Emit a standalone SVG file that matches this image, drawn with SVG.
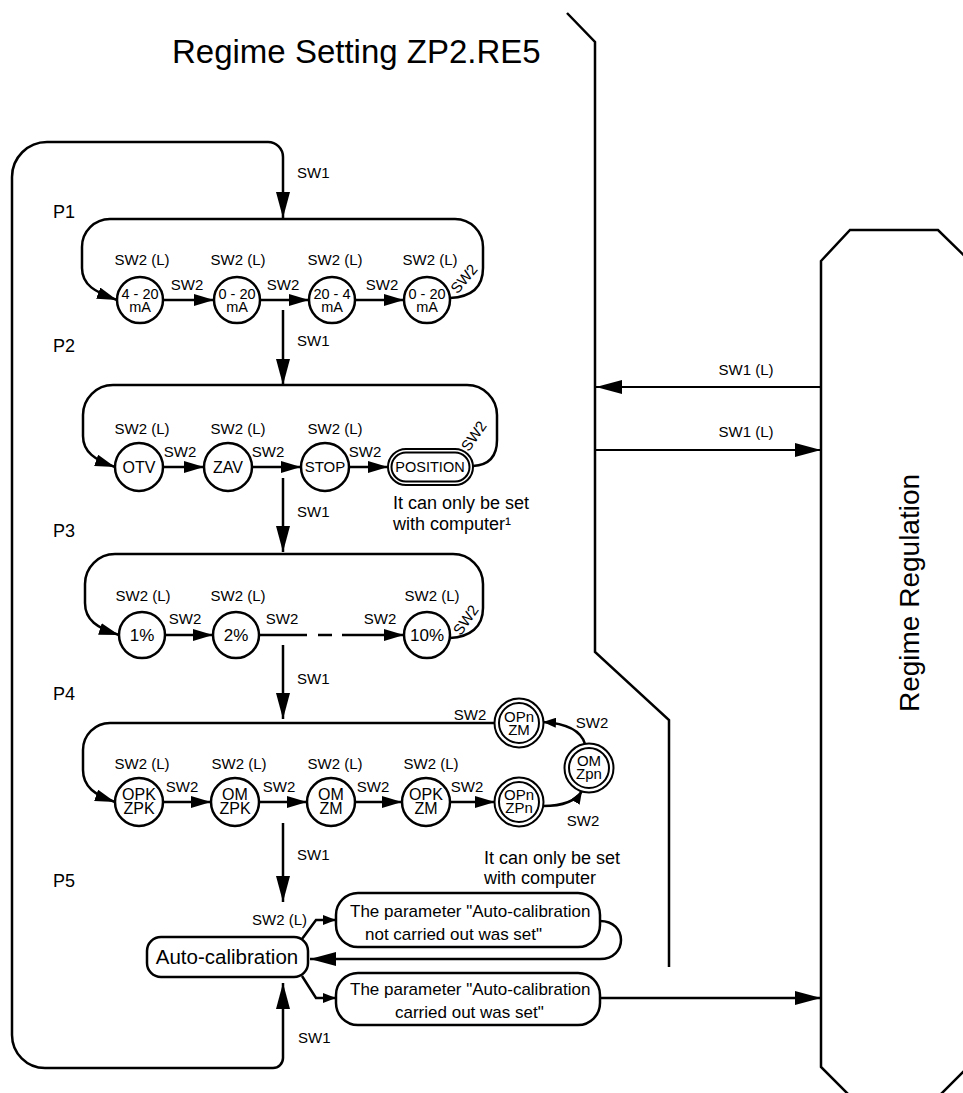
<svg xmlns="http://www.w3.org/2000/svg" width="963" height="1093" viewBox="0 0 963 1093">
<defs>
<style>
.ln{fill:none;stroke:#000;stroke-width:2.5}
.th{fill:none;stroke:#000;stroke-width:2}
.nd{fill:#fff;stroke:#000;stroke-width:2.5}
.nd2{fill:none;stroke:#000;stroke-width:2}
text{font-family:"Liberation Sans",Arial,Helvetica,sans-serif;fill:#000}
.s15{font-size:15px}
.s14{font-size:14.5px}
.s16{font-size:16px}
.s17{font-size:17px}
.s18{font-size:18px}
.c{text-anchor:middle}
</style>
<marker id="ab" markerUnits="userSpaceOnUse" markerWidth="26" markerHeight="14" refX="26" refY="7" orient="auto-start-reverse"><path d="M0,0 L26,7 L0,14 z"/></marker>
<marker id="am" markerUnits="userSpaceOnUse" markerWidth="20" markerHeight="12" refX="20" refY="6" orient="auto"><path d="M0,0 L20,6 L0,12 z"/></marker>
<marker id="as" markerUnits="userSpaceOnUse" markerWidth="13" markerHeight="10" refX="13" refY="5" orient="auto"><path d="M0,0 L13,5 L0,10 z"/></marker>
</defs>
<rect width="963" height="1093" fill="#fff"/>

<text x="172" y="63" style="font-size:33px">Regime Setting ZP2.RE5</text>

<g id="separator"><polyline class="ln" points="567,13 595,42 595,652 669,720 669,967"/></g>

<g id="regime-regulation">
<polygon class="ln" points="821,261 850,230 938,230 980,271 980,1055 935,1100 854,1100 821,1067"/>
<text transform="translate(919,593) rotate(-90)" class="c" style="font-size:28px">Regime Regulation</text>
</g>

<g id="connectors">
<path class="ln" d="M283,983 L283,1058 A10,10 0 0 1 273,1068 L45,1068 A33,33 0 0 1 12,1035 L12,177 A35,35 0 0 1 47,142 L268,142 A15,15 0 0 1 283,157 L283,218" marker-start="url(#ab)" marker-end="url(#ab)"/>
<!-- P1 -->
<path class="ln" d="M450,298 C470,297 483,288 483,268 L483,247 A28,28 0 0 0 455,219 L110,219 A28,28 0 0 0 82,247 L82,268 C82,285 95,292 117,300" marker-end="url(#am)"/>
<path class="ln" d="M163,300 L214,300" marker-end="url(#am)"/>
<path class="ln" d="M260,300 L309,300" marker-end="url(#am)"/>
<path class="ln" d="M355,300 L404,300" marker-end="url(#am)"/>
<path class="ln" d="M283,310 L283,385" marker-end="url(#ab)"/>
<!-- P2 -->
<path class="ln" d="M473,466 C490,465 497,456 497,440 L497,415 A30,30 0 0 0 467,385 L113,385 A30,30 0 0 0 83,415 L83,436 C83,452 95,460 115,467" marker-end="url(#am)"/>
<path class="ln" d="M163,467 L204,467" marker-end="url(#am)"/>
<path class="ln" d="M251,467 L301,467" marker-end="url(#am)"/>
<path class="ln" d="M349,467 L388,467" marker-end="url(#am)"/>
<path class="ln" d="M283,478 L283,552" marker-end="url(#ab)"/>
<!-- P3 -->
<path class="ln" d="M450,638 C470,637 483,627 483,608 L483,584 A30,30 0 0 0 453,554 L115,554 A30,30 0 0 0 85,584 L85,603 C85,620 97,628 119,635" marker-end="url(#am)"/>
<path class="ln" d="M165,635 L213,635" marker-end="url(#am)"/>
<path class="ln" d="M259,635 L307,635 M318,635 L332,635 M342,635 L404,635" marker-end="url(#am)"/>
<path class="ln" d="M283,645 L283,719" marker-end="url(#ab)"/>
<!-- P4 -->
<path class="ln" d="M495,723 L110,723 A27,27 0 0 0 83,750 L83,770 C83,787 95,795 115,802" marker-end="url(#am)"/>
<path class="ln" d="M163,802 L211,802" marker-end="url(#am)"/>
<path class="ln" d="M259,802 L307,802" marker-end="url(#am)"/>
<path class="ln" d="M355,802 L402,802" marker-end="url(#am)"/>
<path class="ln" d="M450,802 L495,802" marker-end="url(#am)"/>
<path class="ln" d="M543,806 Q573,806 582,791" marker-end="url(#as)"/>
<path class="ln" d="M585,744 Q579,724 543,722" marker-end="url(#as)"/>
<path class="ln" d="M283,823 L283,902" marker-end="url(#ab)"/>
<!-- P5 -->
<path class="ln" d="M302,939 L316,920 L336,920" marker-end="url(#as)"/>
<path class="ln" d="M302,976 L316,998 L336,998" marker-end="url(#as)"/>
<path class="ln" d="M600,921 C628,921 628,959 600,959 L310,959" marker-end="url(#ab)"/>
<path class="ln" d="M600,998 L821,998" marker-end="url(#ab)"/>
<!-- to/from regulation -->
<path class="th" d="M821,387 L596,387" marker-end="url(#ab)"/>
<path class="th" d="M596,450 L821,450" marker-end="url(#ab)"/>
</g>

<g id="labels" class="s15">
<text x="297" y="178">SW1</text>
<text x="297" y="346">SW1</text>
<text x="297" y="517">SW1</text>
<text x="297" y="684">SW1</text>
<text x="297" y="860">SW1</text>
<text x="298" y="1043">SW1</text>
<text x="746" y="375" class="c">SW1 (L)</text>
<text x="746" y="437" class="c">SW1 (L)</text>
<!-- P1 -->
<text x="142" y="265" class="c">SW2 (L)</text>
<text x="238" y="265" class="c">SW2 (L)</text>
<text x="335" y="265" class="c">SW2 (L)</text>
<text x="430" y="265" class="c">SW2 (L)</text>
<text x="187" y="290" class="c">SW2</text>
<text x="283" y="290" class="c">SW2</text>
<text x="382" y="290" class="c">SW2</text>
<text transform="translate(468,282) rotate(-50)" class="c">SW2</text>
<!-- P2 -->
<text x="142" y="434" class="c">SW2 (L)</text>
<text x="238" y="434" class="c">SW2 (L)</text>
<text x="335" y="434" class="c">SW2 (L)</text>
<text x="180" y="457" class="c">SW2</text>
<text x="268" y="457" class="c">SW2</text>
<text x="365" y="457" class="c">SW2</text>
<text transform="translate(478,439) rotate(-55)" class="c">SW2</text>
<!-- P3 -->
<text x="143" y="601" class="c">SW2 (L)</text>
<text x="238" y="601" class="c">SW2 (L)</text>
<text x="432" y="601" class="c">SW2 (L)</text>
<text x="185" y="624" class="c">SW2</text>
<text x="282" y="624" class="c">SW2</text>
<text x="380" y="624" class="c">SW2</text>
<text transform="translate(470,623) rotate(-55)" class="c">SW2</text>
<!-- P4 -->
<text x="142" y="769" class="c">SW2 (L)</text>
<text x="239" y="769" class="c">SW2 (L)</text>
<text x="335" y="769" class="c">SW2 (L)</text>
<text x="431" y="769" class="c">SW2 (L)</text>
<text x="182" y="792" class="c">SW2</text>
<text x="279" y="792" class="c">SW2</text>
<text x="373" y="792" class="c">SW2</text>
<text x="467" y="792" class="c">SW2</text>
<text x="470" y="720" class="c">SW2</text>
<text x="592" y="728" class="c">SW2</text>
<text x="583" y="826" class="c">SW2</text>
<!-- P5 -->
<text x="307" y="925" style="text-anchor:end">SW2 (L)</text>
</g>

<g id="section-labels" class="s18">
<text x="53" y="218">P1</text>
<text x="53" y="352">P2</text>
<text x="53" y="537">P3</text>
<text x="53" y="700">P4</text>
<text x="53" y="887">P5</text>
</g>

<g id="notes" class="s18">
<text x="393" y="509">It can only be set</text>
<text x="393" y="530">with computer¹</text>
<text x="484" y="864">It can only be set</text>
<text x="484" y="884">with computer</text>
</g>

<g id="p1-4-20mA"><circle class="nd" cx="140" cy="300" r="23"/><text class="c s14" x="140" y="299">4 - 20</text><text class="c s14" x="140" y="312">mA</text></g>
<g id="p1-0-20mA-a"><circle class="nd" cx="237" cy="300" r="23"/><text class="c s14" x="237" y="299">0 - 20</text><text class="c s14" x="237" y="312">mA</text></g>
<g id="p1-20-4mA"><circle class="nd" cx="332" cy="300" r="23"/><text class="c s14" x="332" y="299">20 - 4</text><text class="c s14" x="332" y="312">mA</text></g>
<g id="p1-0-20mA-b"><circle class="nd" cx="427" cy="300" r="23"/><text class="c s14" x="427" y="299">0 - 20</text><text class="c s14" x="427" y="312">mA</text></g>

<g id="p2-otv"><circle class="nd" cx="139" cy="467" r="24"/><text class="c s16" x="139" y="473">OTV</text></g>
<g id="p2-zav"><circle class="nd" cx="228" cy="467" r="24"/><text class="c s16" x="228" y="473">ZAV</text></g>
<g id="p2-stop"><circle class="nd" cx="325" cy="467" r="24"/><text class="c" x="325" y="472" style="font-size:15px">STOP</text></g>
<g id="p2-position"><rect class="nd2" x="388" y="449" width="85" height="36" rx="18" style="fill:#fff"/><rect class="nd2" x="391.5" y="452.5" width="78" height="29" rx="14.5"/><text class="c" x="430" y="472" style="font-size:14.5px">POSITION</text></g>

<g id="p3-1"><circle class="nd" cx="142" cy="635" r="23"/><text class="c s17" x="142" y="641">1%</text></g>
<g id="p3-2"><circle class="nd" cx="236" cy="635" r="23"/><text class="c s17" x="236" y="641">2%</text></g>
<g id="p3-10"><circle class="nd" cx="427" cy="635" r="23"/><text class="c s17" x="427" y="641">10%</text></g>

<g id="p4-opk-zpk"><circle class="nd" cx="139" cy="802" r="24"/><text class="c s16" x="139" y="800">OPK</text><text class="c s16" x="139" y="814">ZPK</text></g>
<g id="p4-om-zpk"><circle class="nd" cx="235" cy="802" r="24"/><text class="c s16" x="235" y="800">OM</text><text class="c s16" x="235" y="814">ZPK</text></g>
<g id="p4-om-zm"><circle class="nd" cx="331" cy="802" r="24"/><text class="c s16" x="331" y="800">OM</text><text class="c s16" x="331" y="814">ZM</text></g>
<g id="p4-opk-zm"><circle class="nd" cx="426" cy="802" r="24"/><text class="c s16" x="426" y="800">OPK</text><text class="c s16" x="426" y="814">ZM</text></g>
<g id="p4-opn-zpn"><circle class="nd2" cx="519" cy="802" r="24.5" style="fill:#fff"/><circle class="nd2" cx="519" cy="802" r="20"/><text class="c s15" x="519" y="800">OPn</text><text class="c s15" x="519" y="813">ZPn</text></g>
<g id="p4-om-zpn"><circle class="nd2" cx="589" cy="768" r="24.5" style="fill:#fff"/><circle class="nd2" cx="589" cy="768" r="20"/><text class="c s15" x="589" y="766">OM</text><text class="c s15" x="589" y="779">Zpn</text></g>
<g id="p4-opn-zm"><circle class="nd2" cx="519" cy="723" r="24.5" style="fill:#fff"/><circle class="nd2" cx="519" cy="723" r="20"/><text class="c s15" x="519" y="722">OPn</text><text class="c s15" x="519" y="735">ZM</text></g>

<g id="auto-calibration"><rect class="nd" x="147" y="937" width="161" height="40" rx="14"/><text class="c" x="227" y="964" style="font-size:20.5px">Auto-calibration</text></g>
<g id="param-not-carried"><rect class="nd" x="336" y="893" width="264" height="54" rx="22"/><text class="s17" x="350" y="917">The parameter "Auto-calibration</text><text class="s17" x="365" y="940">not carried out was set"</text></g>
<g id="param-carried"><rect class="nd" x="336" y="973" width="264" height="52" rx="22"/><text class="s17" x="350" y="995">The parameter "Auto-calibration</text><text class="s17" x="395" y="1018">carried out was set"</text></g>
</svg>
